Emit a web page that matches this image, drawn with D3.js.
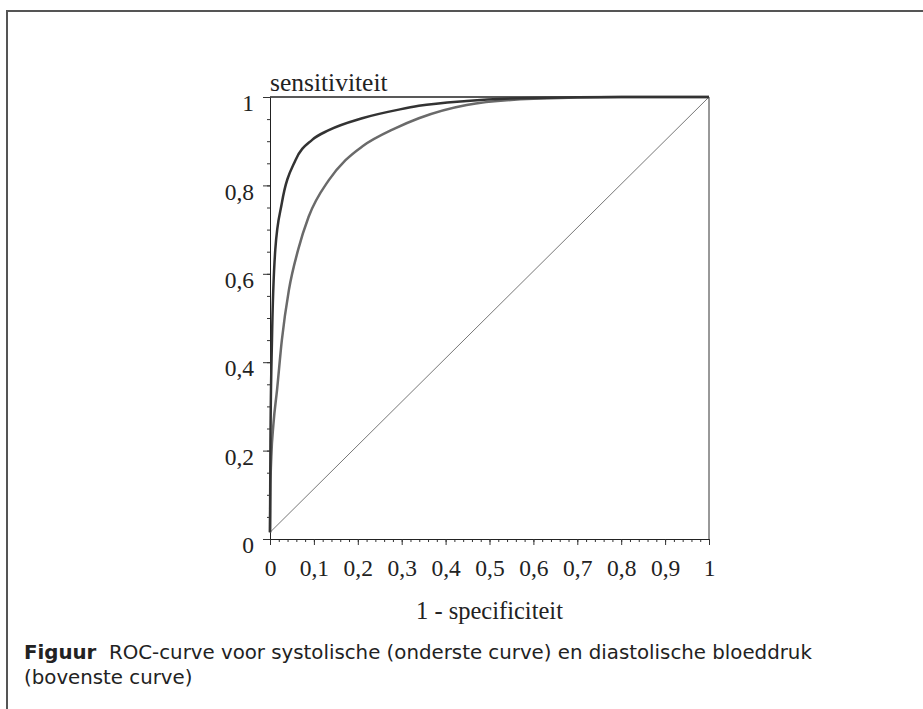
<!DOCTYPE html>
<html>
<head>
<meta charset="utf-8">
<script src="https://cdn.jsdelivr.net/npm/d3@7"></script>
<style>
  body { margin: 0; background: #fff; }
</style>
</head>
<body>
<div id="chart"></div>
<script>
// ROC points (1 - specificiteit, sensitiviteit)
const diastolicFpr = [0, 0.001, 0.0045, 0.012, 0.027, 0.058, 0.096, 0.134, 0.21, 0.296, 0.339, 0.448, 0.6, 0.8, 1];
const diastolicTpr = [0.015, 0.22, 0.45, 0.654, 0.76, 0.857, 0.903, 0.925, 0.952, 0.972, 0.98, 0.991, 0.998, 1, 1];

const systolicFpr = [0, 0.001, 0.003, 0.008, 0.016, 0.027, 0.043, 0.064, 0.088, 0.134, 0.172, 0.21, 0.285, 0.339, 0.448, 0.6, 0.8, 1];
const systolicTpr = [0.015, 0.12, 0.186, 0.262, 0.337, 0.45, 0.563, 0.654, 0.729, 0.812, 0.857, 0.888, 0.929, 0.952, 0.982, 0.996, 1, 1];

const diagonalX = [0, 1];
const diagonalY = [0.015, 1];

const xTicks = [0, 0.1, 0.2, 0.3, 0.4, 0.5, 0.6, 0.7, 0.8, 0.9, 1];
const xTickLabels = ['0', '0,1', '0,2', '0,3', '0,4', '0,5', '0,6', '0,7', '0,8', '0,9', '1'];
const yTicks = [0, 0.2, 0.4, 0.6, 0.8, 1];
const yTickLabels = ['0', '0,2', '0,4', '0,6', '0,8', '1'];

const W = 923, H = 709;
const plot = { l: 270, r: 709, t: 97, b: 539 };

const svg = d3.select('#chart').append('svg')
  .attr('width', W).attr('height', H)
  .style('display', 'block');

svg.append('rect').attr('width', W).attr('height', H).attr('fill', '#fff');

// figure frame (top + left rule)
svg.append('path')
  .attr('d', `M${W},11 H7 V${H}`)
  .attr('fill', 'none').attr('stroke', '#555').attr('stroke-width', 2);

const x = d3.scaleLinear().domain([0, 1]).range([plot.l, plot.r]);
const y = d3.scaleLinear().domain([0, 1]).range([plot.b, plot.t]);

const serif = '"Liberation Serif", "Times New Roman", serif';

// minor ticks
svg.append('g').attr('transform', `translate(0,${plot.b})`)
  .call(d3.axisBottom(x).tickValues(d3.range(0, 1.001, 0.02)).tickSize(3).tickFormat(''))
  .call(g => g.select('.domain').remove());
svg.append('g').attr('transform', `translate(${plot.l},0)`)
  .call(d3.axisLeft(y).tickValues(d3.range(0, 1.001, 0.05)).tickSize(3).tickFormat(''))
  .call(g => g.select('.domain').remove());

// main axes
const xAxis = svg.append('g').attr('transform', `translate(0,${plot.b})`)
  .call(d3.axisBottom(x).tickValues(xTicks).tickSize(6).tickPadding(14)
    .tickFormat((d, i) => xTickLabels[i]).tickSizeOuter(0));
const yAxis = svg.append('g').attr('transform', `translate(${plot.l},0)`)
  .call(d3.axisLeft(y).tickValues(yTicks).tickSize(7).tickPadding(9)
    .tickFormat((d, i) => yTickLabels[i]).tickSizeOuter(0));

[xAxis, yAxis].forEach(g => {
  g.selectAll('text').style('font-family', serif).style('font-size', '23.5px').attr('fill', '#222');
  g.selectAll('line,path').attr('stroke', '#222');
});
yAxis.selectAll('text').attr('dy', '0.58em');
svg.selectAll('.tick line').attr('stroke', '#333');

// box top and right
svg.append('line')
  .attr('x1', x(0)).attr('x2', x(1)).attr('y1', y(1)).attr('y2', y(1))
  .attr('stroke', '#222').attr('stroke-width', 1.5);
svg.append('line')
  .attr('x1', x(1)).attr('x2', x(1)).attr('y1', y(1)).attr('y2', y(0))
  .attr('stroke', '#333').attr('stroke-width', 1);

// diagonal
svg.append('line')
  .attr('x1', x(diagonalX[0])).attr('y1', y(diagonalY[0]))
  .attr('x2', x(diagonalX[1])).attr('y2', y(diagonalY[1]))
  .attr('stroke', '#777').attr('stroke-width', 1);

const line = d3.line().x(d => x(d[0])).y(d => y(d[1])).curve(d3.curveMonotoneX);

// lower curve: systolic
svg.append('path')
  .datum(systolicFpr.map((v, i) => [v, systolicTpr[i]]))
  .attr('d', line)
  .attr('fill', 'none').attr('stroke', '#6a6a6a').attr('stroke-width', 2.5);

// upper curve: diastolic
svg.append('path')
  .datum(diastolicFpr.map((v, i) => [v, diastolicTpr[i]]))
  .attr('d', line)
  .attr('fill', 'none').attr('stroke', '#333').attr('stroke-width', 2.5);

// axis titles
svg.append('text')
  .attr('x', plot.l).attr('y', 91)
  .style('font-family', serif).style('font-size', '25.5px').attr('fill', '#222')
  .text('sensitiviteit');
svg.append('text')
  .attr('x', (plot.l + plot.r) / 2).attr('y', 619)
  .attr('text-anchor', 'middle')
  .style('font-family', serif).style('font-size', '24.5px').attr('fill', '#222')
  .text('1 - specificiteit');

// caption
const sans = '"DejaVu Sans", "Liberation Sans", sans-serif';
const cap = svg.append('text')
  .attr('x', 24).attr('y', 659)
  .style('font-family', sans).style('font-size', '19.8px').attr('fill', '#222');
cap.append('tspan').style('font-weight', 'bold').text('Figuur');
cap.append('tspan').text('\u00a0 ROC-curve voor systolische (onderste curve) en diastolische bloeddruk');
svg.append('text')
  .attr('x', 24).attr('y', 684)
  .style('font-family', sans).style('font-size', '19.8px').attr('fill', '#222')
  .text('(bovenste curve)');
</script>
</body>
</html>
